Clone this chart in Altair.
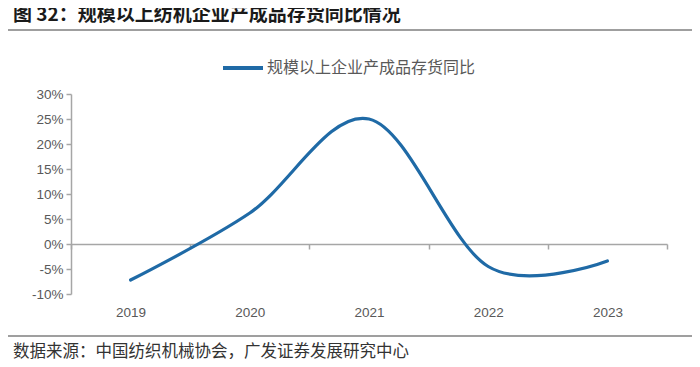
import altair as alt
import pandas as pd

years = [2019, 2020, 2021, 2022, 2023]
values = [-7.2, 6.2, 25.0, -4.5, -3.4]
series_name = "规模以上企业产成品存货同比"
boundaries = [2018.5, 2019.5, 2020.5, 2021.5, 2022.5, 2023.5]
y_ticks = [-10, -5, 0, 5, 10, 15, 20, 25, 30]

title_text = "图 32：规模以上纺机企业产成品存货同比情况"
source_text = "数据来源：中国纺织机械协会，广发证券发展研究中心"

df = pd.DataFrame({"year": years, "value": values, "series": [series_name] * len(years)})

LINE_COLOR = "#1f6aa6"
AXIS_COLOR = "#a6a6a6"
LABEL_COLOR = "#595959"
CJK = "Noto Sans CJK SC"
LAT = "Liberation Sans"

x_scale = alt.Scale(domain=[2018.5, 2023.5], nice=False, zero=False)
y_scale = alt.Scale(domain=[-10, 30], nice=False)

y_axis = alt.Axis(orient="left", values=y_ticks, labelExpr="datum.value + '%'",
                  grid=False, domainColor=AXIS_COLOR, tickColor=AXIS_COLOR,
                  domainWidth=1.5, tickWidth=1.5, tickSize=5, labelPadding=3,
                  labelOverlap=False, labelFontSize=13.5,
                  labelColor=LABEL_COLOR, labelFont=LAT)

line = alt.Chart(df).mark_line(
    interpolate="cardinal", strokeWidth=3.2, strokeCap="round"
).encode(
    x=alt.X("year:Q", scale=x_scale, title=None,
            axis=alt.Axis(orient="bottom", values=years, format="d", domain=False,
                          ticks=False, grid=False, labelPadding=11, labelFontSize=13.5,
                          labelColor=LABEL_COLOR, labelFont=LAT)),
    y=alt.Y("value:Q", scale=y_scale, title=None, axis=y_axis),
    color=alt.Color("series:N", scale=alt.Scale(range=[LINE_COLOR]), title=None,
                    legend=alt.Legend(orient="none", legendX=150, legendY=-48,
                                      symbolType="stroke", symbolSize=1600,
                                      symbolStrokeWidth=4, labelFontSize=16,
                                      labelColor=LABEL_COLOR, labelFont=CJK,
                                      labelOffset=2, labelLimit=400)),
)

bdf = pd.DataFrame({"b": boundaries, "zero": [0] * len(boundaries)})
zero_axis = alt.Chart(bdf).mark_point(opacity=0).encode(
    x=alt.X("b:Q", scale=x_scale, title=None,
            axis=alt.Axis(orient="bottom", values=boundaries, labels=False, offset=-50,
                          grid=False, domainColor=AXIS_COLOR, tickColor=AXIS_COLOR,
                          domainWidth=1.5, tickWidth=1.5, tickSize=5)),
    y=alt.Y("zero:Q", scale=y_scale, title=None, axis=y_axis),
)

one = alt.Data(values=[{"a": 1}])
title_mark = alt.Chart(one).mark_text(
    align="left", baseline="middle", font=CJK, fontSize=19, fontWeight="bold",
    color="#1a1a1a"
).encode(x=alt.value(-58), y=alt.value(-79), text=alt.value(title_text))

source_mark = alt.Chart(one).mark_text(
    align="left", baseline="middle", font=CJK, fontSize=16.5, color="#333333"
).encode(x=alt.value(-58), y=alt.value(258), text=alt.value(source_text))

top_line = alt.Chart(one).mark_rule(color="#7f7f7f", strokeWidth=1.5).encode(
    x=alt.value(-63), x2=alt.value(621), y=alt.value(-64))
bottom_line = alt.Chart(one).mark_rule(color="#7f7f7f", strokeWidth=1.5).encode(
    x=alt.value(-63), x2=alt.value(621), y=alt.value(242))

layered = alt.layer(
    line, zero_axis, title_mark, source_mark, top_line, bottom_line
).resolve_axis(x="independent").properties(
    width=596, height=200,
    autosize=alt.AutoSizeParams(type="none"),
    padding={"left": 63, "top": 86, "right": 25, "bottom": 65},
).configure(background="white").configure_axis(grid=False)

spec = layered.to_dict()
spec.setdefault("config", {})
spec["config"]["view"] = {"stroke": None, "strokeWidth": 0}
spec["config"].setdefault("style", {})
spec["config"]["style"]["cell"] = {"stroke": None, "strokeWidth": 0}
spec["view"] = {"stroke": None, "strokeWidth": 0}

chart = alt.LayerChart.from_dict(spec)
chart.save("out.html", embed_options={"renderer": "svg", "actions": False})
